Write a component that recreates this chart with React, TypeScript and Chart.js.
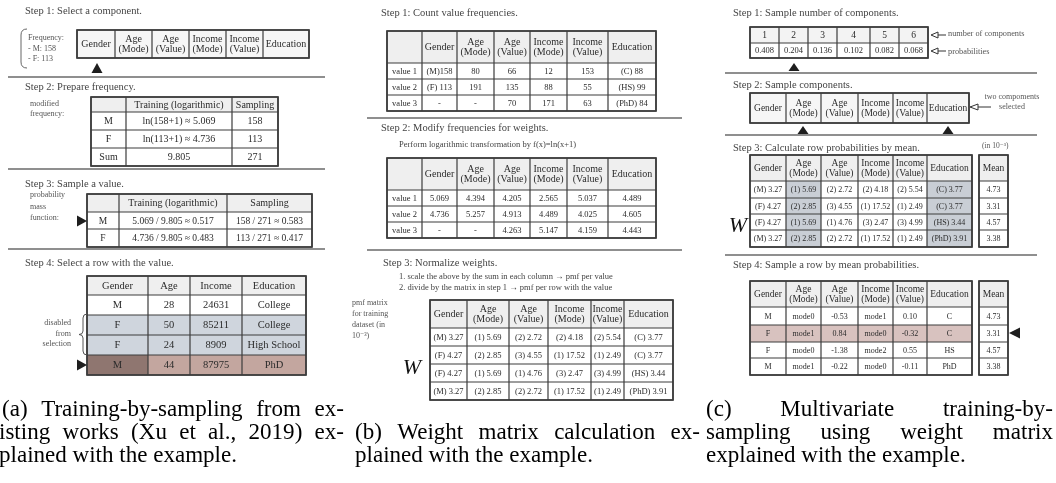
import React, { useEffect, useRef } from "react";
import { Chart, registerables } from "chart.js";

Chart.register(...registerables);

// ================= DATA =================
const COMPONENTS = ["Gender", "Age\n(Mode)", "Age\n(Value)", "Income\n(Mode)", "Income\n(Value)", "Education"];
const FREQ_NOTE = ["Frequency:", "- M: 158", "- F: 113"];

const A2_HEAD = ["", "Training (logarithmic)", "Sampling"];
const A2_ROWS = [
  ["M", "ln(158+1) ≈ 5.069", "158"],
  ["F", "ln(113+1) ≈ 4.736", "113"],
  ["Sum", "9.805", "271"],
];
const A3_ROWS = [
  ["M", "5.069 / 9.805 ≈ 0.517", "158 / 271 ≈ 0.583"],
  ["F", "4.736 / 9.805 ≈ 0.483", "113 / 271 ≈ 0.417"],
];
const A4_HEAD = ["Gender", "Age", "Income", "Education"];
const A4_ROWS = [
  ["M", "28", "24631", "College"],
  ["F", "50", "85211", "College"],
  ["F", "24", "8909", "High School"],
  ["M", "44", "87975", "PhD"],
];

const VALUE_LABELS = ["value 1", "value 2", "value 3"];
const B1_COUNTS = [
  ["(M)158", "80", "66", "12", "153", "(C) 88"],
  ["(F) 113", "191", "135", "88", "55", "(HS) 99"],
  ["-", "-", "70", "171", "63", "(PhD) 84"],
];
const B2_LOGS = [
  ["5.069", "4.394", "4.205", "2.565", "5.037", "4.489"],
  ["4.736", "5.257", "4.913", "4.489", "4.025", "4.605"],
  ["-", "-", "4.263", "5.147", "4.159", "4.443"],
];
const W_MATRIX = [
  ["(M) 3.27", "(1) 5.69", "(2) 2.72", "(2) 4.18", "(2) 5.54", "(C) 3.77"],
  ["(F) 4.27", "(2) 2.85", "(3) 4.55", "(1) 17.52", "(1) 2.49", "(C) 3.77"],
  ["(F) 4.27", "(1) 5.69", "(1) 4.76", "(3) 2.47", "(3) 4.99", "(HS) 3.44"],
  ["(M) 3.27", "(2) 2.85", "(2) 2.72", "(1) 17.52", "(1) 2.49", "(PhD) 3.91"],
];
const NUM_COMPONENTS = ["1", "2", "3", "4", "5", "6"];
const NUM_PROBS = ["0.408", "0.204", "0.136", "0.102", "0.082", "0.068"];
const ROW_MEANS = ["4.73", "3.31", "4.57", "3.38"];
const C4_ROWS = [
  ["M", "mode0", "-0.53", "mode1", "0.10", "C"],
  ["F", "mode1", "0.84", "mode0", "-0.32", "C"],
  ["F", "mode0", "-1.38", "mode2", "0.55", "HS"],
  ["M", "mode1", "-0.22", "mode0", "-0.11", "PhD"],
];

const STEPS_A = ["Step 1: Select a component.", "Step 2: Prepare frequency.", "Step 3: Sample a value.", "Step 4: Select a row with the value."];
const STEPS_B = ["Step 1: Count value frequencies.", "Step 2: Modify frequencies for weights.", "Step 3: Normalize weights."];
const STEPS_C = ["Step 1: Sample number of components.", "Step 2: Sample components.", "Step 3: Calculate row probabilities by mean.", "Step 4: Sample a row by mean probabilities."];

const CAPTION_A = ["(a) Training-by-sampling from ex-", "isting works (Xu et al., 2019) ex-", "plained with the example."];
const CAPTION_B = ["(b) Weight matrix calculation ex-", "plained with the example."];
const CAPTION_C = ["(c) Multivariate training-by-", "sampling using weight matrix", "explained with the example."];

// ================= LAYOUT =================
const W = 1056;
const H = 483;
const SERIF = '"Liberation Serif", "DejaVu Serif", serif';
const INK = "#2b2b2b";
const NOTE = "#555";
const HEAD_FILL = "#efefef";
const LINE = "#3c3c3c";

type Fn = (v: number) => number;
interface TableSpec {
  cols: number[];
  rows: number[];
  cells: string[][];
  fill?: (r: number, c: number) => string | null;
  size?: (r: number, c: number) => number;
}

function setFont(ctx: CanvasRenderingContext2D, size: number, style = "") {
  ctx.font = `${style} ${size}px ${SERIF}`;
}

function label(ctx: CanvasRenderingContext2D, X: Fn, Y: Fn, s: string, x: number, y: number, size: number, color: string, align: CanvasTextAlign = "left", style = "") {
  setFont(ctx, size, style);
  ctx.fillStyle = color;
  ctx.textAlign = align;
  ctx.textBaseline = "middle";
  ctx.fillText(s, X(x), Y(y));
}

function drawTable(ctx: CanvasRenderingContext2D, X: Fn, Y: Fn, t: TableSpec) {
  const { cols, rows, cells } = t;
  for (let r = 0; r < rows.length - 1; r++) {
    for (let c = 0; c < cols.length - 1; c++) {
      const f = (t.fill && t.fill(r, c)) || "#ffffff";
      ctx.fillStyle = f;
      ctx.fillRect(X(cols[c]), Y(rows[r]), X(cols[c + 1]) - X(cols[c]), Y(rows[r + 1]) - Y(rows[r]));
    }
  }
  ctx.strokeStyle = LINE;
  ctx.lineWidth = 1.2;
  ctx.beginPath();
  cols.forEach((cx) => {
    ctx.moveTo(X(cx), Y(rows[0]));
    ctx.lineTo(X(cx), Y(rows[rows.length - 1]));
  });
  rows.forEach((ry) => {
    ctx.moveTo(X(cols[0]), Y(ry));
    ctx.lineTo(X(cols[cols.length - 1]), Y(ry));
  });
  ctx.stroke();
  ctx.lineWidth = 1.7;
  ctx.strokeRect(X(cols[0]), Y(rows[0]), X(cols[cols.length - 1]) - X(cols[0]), Y(rows[rows.length - 1]) - Y(rows[0]));
  ctx.fillStyle = INK;
  ctx.textAlign = "center";
  ctx.textBaseline = "middle";
  for (let r = 0; r < rows.length - 1; r++) {
    for (let c = 0; c < cols.length - 1; c++) {
      const s = (cells[r] && cells[r][c]) || "";
      if (!s) continue;
      const size = t.size ? t.size(r, c) : 10;
      setFont(ctx, size);
      const lines = s.split("\n");
      const lh = size * 1.02;
      const cx = (X(cols[c]) + X(cols[c + 1])) / 2;
      const cy = (Y(rows[r]) + Y(rows[r + 1])) / 2;
      lines.forEach((ln, i) => {
        ctx.fillText(ln, cx, cy + (i - (lines.length - 1) / 2) * lh + 0.5);
      });
    }
  }
}

function hline(ctx: CanvasRenderingContext2D, X: Fn, Y: Fn, x0: number, x1: number, y: number) {
  ctx.strokeStyle = "#6a6a6a";
  ctx.lineWidth = 1.5;
  ctx.beginPath();
  ctx.moveTo(X(x0), Y(y));
  ctx.lineTo(X(x1), Y(y));
  ctx.stroke();
}

function triUp(ctx: CanvasRenderingContext2D, X: Fn, Y: Fn, cx: number, top: number, bottom: number, hw: number) {
  ctx.fillStyle = "#1e1e1e";
  ctx.beginPath();
  ctx.moveTo(X(cx), Y(top));
  ctx.lineTo(X(cx + hw), Y(bottom));
  ctx.lineTo(X(cx - hw), Y(bottom));
  ctx.closePath();
  ctx.fill();
}

function triSide(ctx: CanvasRenderingContext2D, X: Fn, Y: Fn, tipX: number, cy: number, baseX: number, hh: number) {
  ctx.fillStyle = "#1e1e1e";
  ctx.beginPath();
  ctx.moveTo(X(tipX), Y(cy));
  ctx.lineTo(X(baseX), Y(cy - hh));
  ctx.lineTo(X(baseX), Y(cy + hh));
  ctx.closePath();
  ctx.fill();
}

function hollowArrow(ctx: CanvasRenderingContext2D, X: Fn, Y: Fn, tipX: number, cy: number, baseX: number, endX: number) {
  ctx.strokeStyle = "#333";
  ctx.lineWidth = 1;
  ctx.fillStyle = "#fff";
  ctx.beginPath();
  ctx.moveTo(X(tipX), Y(cy));
  ctx.lineTo(X(baseX), Y(cy - 3));
  ctx.lineTo(X(baseX), Y(cy + 3));
  ctx.closePath();
  ctx.fill();
  ctx.stroke();
  ctx.beginPath();
  ctx.moveTo(X(baseX), Y(cy));
  ctx.lineTo(X(endX), Y(cy));
  ctx.stroke();
}

function captionLine(ctx: CanvasRenderingContext2D, X: Fn, Y: Fn, s: string, x0: number, x1: number | null, yb: number, size: number, sx: number) {
  setFont(ctx, size);
  ctx.fillStyle = "#000";
  ctx.textAlign = "left";
  ctx.textBaseline = "alphabetic";
  const words = s.split(" ");
  const ws = words.map((w) => ctx.measureText(w).width * sx);
  const space = ctx.measureText(" ").width * sx;
  const total = ws.reduce((a, b) => a + b, 0);
  const gap = x1 === null || words.length < 2 ? space : (X(x1) - X(x0) - total) / (words.length - 1);
  let x = X(x0);
  words.forEach((w, i) => {
    ctx.save();
    ctx.translate(x, Y(yb));
    ctx.scale(sx, 1);
    ctx.fillText(w, 0, 0);
    ctx.restore();
    x += ws[i] + gap;
  });
}

const figurePlugin = {
  id: "figure",
  beforeDraw(chart: Chart) {
    const ctx = chart.ctx;
    ctx.save();
    ctx.fillStyle = "#fff";
    ctx.fillRect(0, 0, chart.width, chart.height);
    ctx.restore();
  },
  afterDraw(chart: Chart) {
    const ctx = chart.ctx;
    const xs = chart.scales.x;
    const ys = chart.scales.y;
    const X: Fn = (v) => xs.getPixelForValue(v);
    const Y: Fn = (v) => ys.getPixelForValue(v);
    ctx.save();

    // ---------- Panel (a) ----------
    label(ctx, X, Y, STEPS_A[0], 25, 11, 10.5, "#444");
    ctx.strokeStyle = "#666";
    ctx.lineWidth = 1;
    ctx.beginPath();
    ctx.moveTo(X(27), Y(29));
    ctx.quadraticCurveTo(X(21), Y(29), X(21), Y(35));
    ctx.lineTo(X(21), Y(62));
    ctx.quadraticCurveTo(X(21), Y(68), X(27), Y(68));
    ctx.stroke();
    FREQ_NOTE.forEach((s, i) => label(ctx, X, Y, s, 28, 38 + i * 10.5, 8, NOTE));
    drawTable(ctx, X, Y, {
      cols: [77, 115, 152, 189, 226, 263, 309],
      rows: [30, 58],
      cells: [COMPONENTS],
      fill: () => "#f6f6f6",
      size: () => 10,
    });
    triUp(ctx, X, Y, 97, 63, 73, 5.5);
    hline(ctx, X, Y, 8, 325, 77);

    label(ctx, X, Y, STEPS_A[1], 25, 87, 10.5, "#444");
    label(ctx, X, Y, "modified", 30, 104, 8, NOTE);
    label(ctx, X, Y, "frequency:", 30, 114, 8, NOTE);
    drawTable(ctx, X, Y, {
      cols: [91, 126, 232, 278],
      rows: [97, 112, 130, 148, 166],
      cells: [A2_HEAD, ...A2_ROWS],
      fill: (r) => (r === 0 ? HEAD_FILL : null),
      size: () => 10,
    });
    hline(ctx, X, Y, 8, 325, 169);

    label(ctx, X, Y, STEPS_A[2], 25, 184, 10.5, "#444");
    ["probability", "mass", "function:"].forEach((s, i) => label(ctx, X, Y, s, 30, 195 + i * 11.5, 8, NOTE));
    drawTable(ctx, X, Y, {
      cols: [87, 119, 227, 312],
      rows: [194, 212, 229, 247],
      cells: [A2_HEAD, ...A3_ROWS],
      fill: (r) => (r === 0 ? HEAD_FILL : null),
      size: (r) => (r === 0 ? 10 : 9.5),
    });
    triSide(ctx, X, Y, 87, 221, 77, 5.5);
    hline(ctx, X, Y, 8, 325, 249);

    label(ctx, X, Y, STEPS_A[3], 25, 263, 10.5, "#444");
    drawTable(ctx, X, Y, {
      cols: [87, 148, 190, 242, 306],
      rows: [276, 295, 315, 335, 355, 375],
      cells: [A4_HEAD, ...A4_ROWS],
      fill: (r, c) => {
        if (r === 0) return HEAD_FILL;
        if (r === 2 || r === 3) return "#cfd5dd";
        if (r === 4) return c === 0 ? "#8f7670" : "#c3a69f";
        return null;
      },
      size: () => 10.5,
    });
    // curly brace
    ctx.strokeStyle = "#555";
    ctx.lineWidth = 1;
    ctx.beginPath();
    ctx.moveTo(X(87), Y(314));
    ctx.quadraticCurveTo(X(83), Y(314), X(83), Y(318));
    ctx.lineTo(X(83), Y(331));
    ctx.quadraticCurveTo(X(83), Y(334.5), X(79), Y(334.5));
    ctx.quadraticCurveTo(X(83), Y(334.5), X(83), Y(338));
    ctx.lineTo(X(83), Y(351));
    ctx.quadraticCurveTo(X(83), Y(355), X(87), Y(355));
    ctx.stroke();
    ["disabled", "from", "selection"].forEach((s, i) => label(ctx, X, Y, s, 71, 323 + i * 10.5, 8, NOTE, "right"));
    triSide(ctx, X, Y, 87, 365, 77, 5.5);

    // ---------- Panel (b) ----------
    const bCols = [387, 422, 457, 494, 530, 567, 608, 656];
    const bHead = ["", ...COMPONENTS];
    label(ctx, X, Y, STEPS_B[0], 381, 13, 10.5, "#444");
    drawTable(ctx, X, Y, {
      cols: bCols,
      rows: [31, 63, 79, 95, 111],
      cells: [bHead, ...B1_COUNTS.map((r, i) => [VALUE_LABELS[i], ...r])],
      fill: (r) => (r === 0 ? HEAD_FILL : null),
      size: (r) => (r === 0 ? 10 : 8.5),
    });
    hline(ctx, X, Y, 367, 682, 118);

    label(ctx, X, Y, STEPS_B[1], 381, 128, 10.5, "#444");
    label(ctx, X, Y, "Perform logarithmic transformation by f(x)=ln(x+1)", 399, 145, 8.5, "#444");
    drawTable(ctx, X, Y, {
      cols: bCols,
      rows: [158, 190, 206, 222, 238],
      cells: [bHead, ...B2_LOGS.map((r, i) => [VALUE_LABELS[i], ...r])],
      fill: (r) => (r === 0 ? HEAD_FILL : null),
      size: (r) => (r === 0 ? 10 : 8.5),
    });
    hline(ctx, X, Y, 367, 682, 250);

    label(ctx, X, Y, STEPS_B[2], 383, 263, 10.5, "#444");
    label(ctx, X, Y, "1. scale the above by the sum in each column → pmf per value", 399, 277, 8.5, "#444");
    label(ctx, X, Y, "2. divide by the matrix in step 1 → pmf per row with the value", 399, 288, 8.5, "#444");
    ["pmf matrix", "for training", "dataset (in", "10⁻³)"].forEach((s, i) => label(ctx, X, Y, s, 352, 303 + i * 11, 8, NOTE));
    label(ctx, X, Y, "W", 412, 368, 22, "#111", "center", "italic");
    drawTable(ctx, X, Y, {
      cols: [430, 467, 509, 548, 591, 624, 673],
      rows: [300, 328, 346, 364, 382, 400],
      cells: [COMPONENTS, ...W_MATRIX],
      fill: (r) => (r === 0 ? HEAD_FILL : null),
      size: (r) => (r === 0 ? 10 : 8.5),
    });

    // ---------- Panel (c) ----------
    label(ctx, X, Y, STEPS_C[0], 733, 13, 10.5, "#444");
    drawTable(ctx, X, Y, {
      cols: [750, 779, 808, 837, 870, 899, 928],
      rows: [27, 43, 58],
      cells: [NUM_COMPONENTS, NUM_PROBS],
      fill: (r) => (r === 0 ? "#f3f3f3" : null),
      size: (r) => (r === 0 ? 9.5 : 8.5),
    });
    hollowArrow(ctx, X, Y, 931, 35, 938, 946);
    hollowArrow(ctx, X, Y, 931, 51, 938, 946);
    label(ctx, X, Y, "number of components", 948, 34, 8.3, NOTE);
    label(ctx, X, Y, "probabilities", 948, 52, 8.3, NOTE);
    triUp(ctx, X, Y, 794, 63, 71, 5.5);
    hline(ctx, X, Y, 725, 1037, 73);

    const cCols = [750, 786, 821, 858, 893, 927, 972];
    label(ctx, X, Y, STEPS_C[1], 733, 85, 10.5, "#444");
    drawTable(ctx, X, Y, {
      cols: [750, 786, 821, 858, 893, 927, 969],
      rows: [93, 123],
      cells: [COMPONENTS],
      fill: () => "#f6f6f6",
      size: () => 9.5,
    });
    hollowArrow(ctx, X, Y, 970, 107, 978, 991);
    label(ctx, X, Y, "two compoments", 1012, 97, 8, NOTE, "center");
    label(ctx, X, Y, "selected", 1012, 107, 8, NOTE, "center");
    triUp(ctx, X, Y, 803, 126, 134, 5.5);
    triUp(ctx, X, Y, 948, 126, 134, 5.5);
    hline(ctx, X, Y, 725, 1037, 135);

    label(ctx, X, Y, STEPS_C[2], 733, 148, 10.5, "#444");
    label(ctx, X, Y, "(in 10⁻³)", 982, 146, 7.5, NOTE);
    const c3Rows = [155, 181, 198, 214, 230, 247];
    drawTable(ctx, X, Y, {
      cols: cCols,
      rows: c3Rows,
      cells: [COMPONENTS, ...W_MATRIX],
      fill: (r, c) => (r === 0 ? HEAD_FILL : c === 1 || c === 5 ? "#c9ced5" : null),
      size: (r) => (r === 0 ? 9.5 : 8),
    });
    drawTable(ctx, X, Y, {
      cols: [979, 1008],
      rows: c3Rows,
      cells: [["Mean"], ...ROW_MEANS.map((m) => [m])],
      fill: (r) => (r === 0 ? HEAD_FILL : null),
      size: (r) => (r === 0 ? 9.5 : 8),
    });
    label(ctx, X, Y, "W", 738, 226, 22, "#111", "center", "italic");
    hline(ctx, X, Y, 725, 1037, 255);

    label(ctx, X, Y, STEPS_C[3], 733, 265, 10.5, "#444");
    const c4Rows = [281, 307, 325, 342, 358, 375];
    drawTable(ctx, X, Y, {
      cols: cCols,
      rows: c4Rows,
      cells: [COMPONENTS, ...C4_ROWS],
      fill: (r) => (r === 0 ? HEAD_FILL : r === 2 ? "#d8c2bf" : null),
      size: (r) => (r === 0 ? 9.5 : 8),
    });
    drawTable(ctx, X, Y, {
      cols: [979, 1008],
      rows: c4Rows,
      cells: [["Mean"], ...ROW_MEANS.map((m) => [m])],
      fill: (r) => (r === 0 ? HEAD_FILL : null),
      size: (r) => (r === 0 ? 9.5 : 8),
    });
    triSide(ctx, X, Y, 1009, 333, 1020, 5.5);

    // ---------- Captions ----------
    const CAP = 23;
    setFont(ctx, CAP);
    const sx = 238 / ctx.measureText(CAPTION_A[2]).width;
    const base = [416, 439, 462];
    captionLine(ctx, X, Y, CAPTION_A[0], 2, 344, base[0], CAP, sx);
    captionLine(ctx, X, Y, CAPTION_A[1], -1, 344, base[1], CAP, sx);
    captionLine(ctx, X, Y, CAPTION_A[2], -1, null, base[2], CAP, sx);
    captionLine(ctx, X, Y, CAPTION_B[0], 355, 700, base[1], CAP, sx);
    captionLine(ctx, X, Y, CAPTION_B[1], 355, null, base[2], CAP, sx);
    captionLine(ctx, X, Y, CAPTION_C[0], 706, 1053, base[0], CAP, sx);
    captionLine(ctx, X, Y, CAPTION_C[1], 706, 1053, base[1], CAP, sx);
    captionLine(ctx, X, Y, CAPTION_C[2], 706, null, base[2], CAP, sx);

    ctx.restore();
  },
};

export default function App() {
  const ref = useRef<HTMLCanvasElement>(null);
  useEffect(() => {
    if (!ref.current) return;
    const chart = new Chart(ref.current, {
      type: "scatter",
      data: { datasets: [{ data: [], pointRadius: 0 }] },
      options: {
        responsive: false,
        animation: false,
        events: [],
        layout: { padding: 0 },
        plugins: { legend: { display: false }, tooltip: { enabled: false }, title: { display: false } },
        scales: {
          x: { type: "linear", min: 0, max: W, display: false },
          y: { type: "linear", min: 0, max: H, reverse: true, display: false },
        },
      },
      plugins: [figurePlugin as any],
    });
    return () => chart.destroy();
  }, []);
  return (
    <div style={{ position: "fixed", left: 0, top: 0, width: W, height: H, background: "#fff" }}>
      <canvas ref={ref} width={W} height={H} style={{ display: "block" }} />
    </div>
  );
}
